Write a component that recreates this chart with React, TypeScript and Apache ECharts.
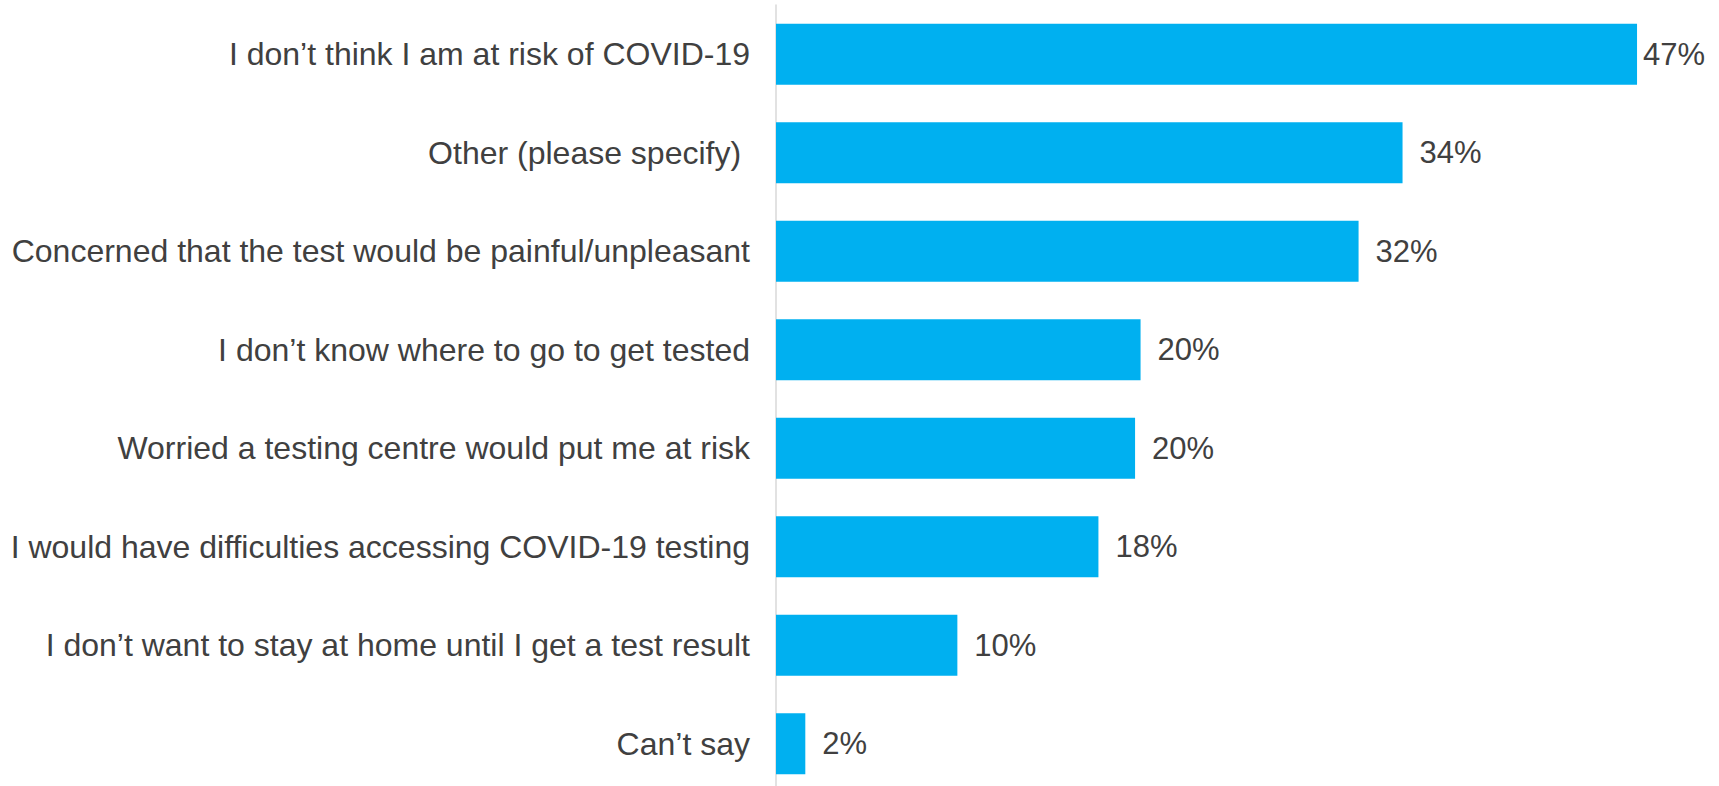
import React, { useEffect, useRef } from "react";
import * as echarts from "echarts";

const categories = [
  "I don’t think I am at risk of COVID-19",
  "Other (please specify) ",
  "Concerned that the test would be painful/unpleasant",
  "I don’t know where to go to get tested",
  "Worried a testing centre would put me at risk",
  "I would have difficulties accessing COVID-19 testing",
  "I don’t want to stay at home until I get a test result",
  "Can’t say",
];

const values = [47, 34.2, 31.8, 19.9, 19.6, 17.6, 9.9, 1.6];
const valueLabels = ["47%", "34%", "32%", "20%", "20%", "18%", "10%", "2%"];

export default function App() {
  const ref = useRef<HTMLDivElement>(null);
  useEffect(() => {
    if (!ref.current) return;
    const chart = echarts.init(ref.current, null, { renderer: "svg" });
    chart.setOption({
      animation: false,
      backgroundColor: "#ffffff",
      grid: {
        left: 776,
        width: 916,
        top: 5,
        height: 788,
        containLabel: false,
        outerBoundsMode: "none",
      },
      xAxis: {
        type: "value",
        min: 0,
        max: 50,
        show: false,
      },
      yAxis: {
        type: "category",
        inverse: true,
        data: categories,
        axisLine: { show: true, lineStyle: { color: "#D9D9D9", width: 1.5 } },
        axisTick: { show: false },
        splitLine: { show: false },
        axisLabel: {
          margin: 26,
          fontFamily: "Liberation Sans, Arial, sans-serif",
          fontSize: 32,
          color: "#404040",
        },
      },
      series: [
        {
          type: "bar",
          data: values.map((v, i) =>
            i === 0 ? { value: v, label: { distance: 6 } } : { value: v }
          ),
          barWidth: 61,
          itemStyle: { color: "#00B0F0" },
          label: {
            show: true,
            position: "right",
            distance: 17,
            fontFamily: "Liberation Sans, Arial, sans-serif",
            fontSize: 31,
            color: "#404040",
            formatter: (p: any) => valueLabels[p.dataIndex],
          },
        },
      ],
    });
    return () => chart.dispose();
  }, []);
  return (
    <div
      ref={ref}
      style={{ position: "fixed", left: 0, top: 0, width: 1719, height: 786 }}
    />
  );
}
